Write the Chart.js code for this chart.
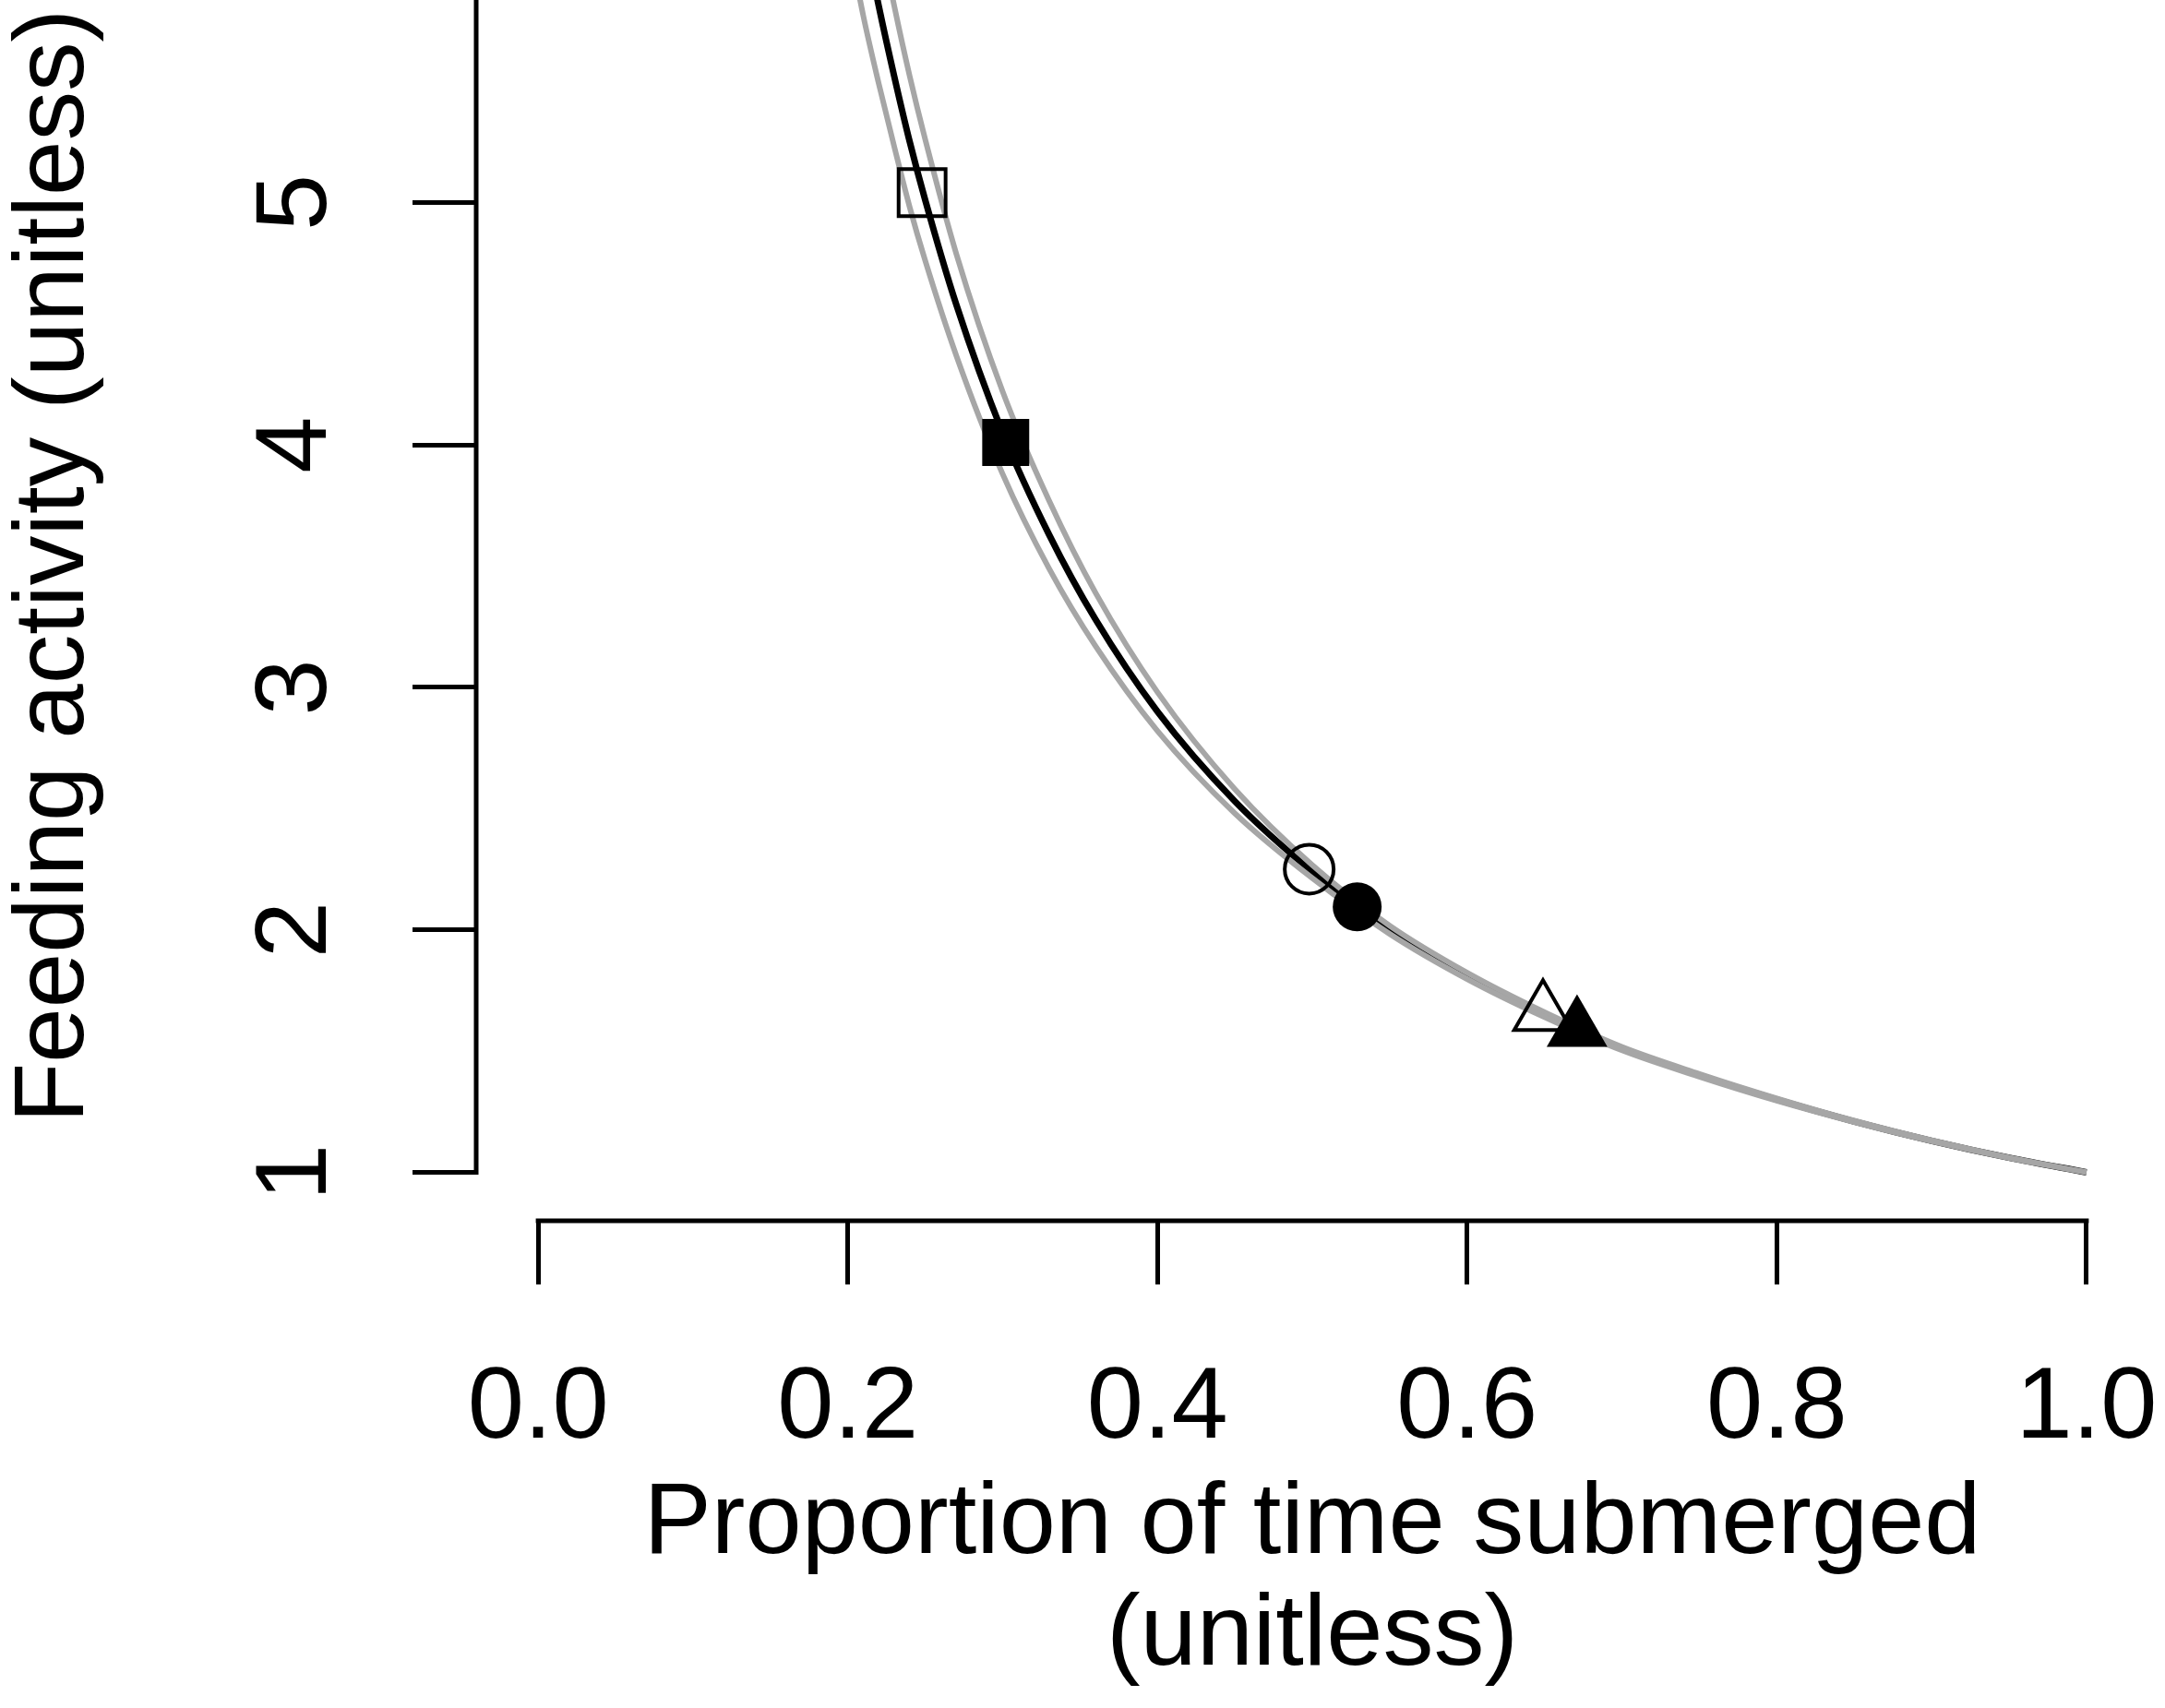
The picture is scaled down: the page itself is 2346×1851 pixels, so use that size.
<!DOCTYPE html>
<html>
<head>
<meta charset="utf-8">
<script src="https://cdn.jsdelivr.net/npm/chart.js@4.4.1/dist/chart.umd.min.js"></script>
<style>
    html, body { margin: 0; padding: 0; background: #fff; overflow: hidden; }
    #wrap { width: 2346px; height: 1851px; overflow: hidden; position: relative; }
    #chart { display: block; position: absolute; left: 0; top: -96px; }
</style>
</head>
<body>
<div id="wrap"><canvas id="chart" width="2346" height="1947"></canvas></div>
<script>
// 1) data
const curveX = [0.20, 0.21, 0.22, 0.23, 0.24, 0.25, 0.27, 0.30, 0.33, 0.36, 0.40, 0.45,
    0.50, 0.55, 0.60, 0.65, 0.70, 0.75, 0.80, 0.85, 0.90, 0.95, 1.00];
// fitted curve (black)
const fitY = [6.49, 6.13, 5.81, 5.52, 5.25, 5.01, 4.58, 4.05, 3.63, 3.28, 2.90, 2.53,
    2.24, 2.00, 1.81, 1.65, 1.51, 1.40, 1.30, 1.21, 1.13, 1.06, 1.00];
// grey bounds
const lowerY = [6.10, 5.77, 5.49, 5.23, 4.98, 4.76, 4.37, 3.88, 3.49, 3.17, 2.82, 2.48,
    2.213, 1.983, 1.797, 1.640, 1.503, 1.394, 1.295, 1.207, 1.128, 1.059, 1.00];
const upperY = [6.88, 6.49, 6.13, 5.81, 5.52, 5.26, 4.79, 4.22, 3.77, 3.39, 2.98, 2.58,
    2.267, 2.017, 1.823, 1.660, 1.517, 1.406, 1.305, 1.213, 1.132, 1.061, 1.00];

// observed points (open square, filled square, open circle, filled circle, open triangle, filled triangle)
const markerX = [0.248, 0.302, 0.498, 0.529, 0.649, 0.671];
const markerY = [5.04, 4.01, 2.25, 2.095, 1.655, 1.59];

const xTicks = [0.0, 0.2, 0.4, 0.6, 0.8, 1.0];
const yTicks = [1, 2, 3, 4, 5, 6];
const xTitle = ['Proportion of time submerged', '(unitless)'];
const yTitle = 'Feeding activity (unitless)';

// 2) styles
const markerShape = ['rect', 'rect', 'circle', 'circle', 'triangle', 'triangle'];
const markerFilled = [false, true, false, true, false, true];
const markerSize = { rect: 36, circle: 26.5, triangle: 36 };
const FONT = 110;

Chart.defaults.font.family = '"Liberation Sans", Arial, Helvetica, sans-serif';
Chart.defaults.color = '#000';

const toPoints = ys => curveX.map((x, i) => ({ x, y: ys[i] }));

// R-style axis lines: only between first and last tick
const axisLines = {
    id: 'axisLines',
    afterDraw(chart) {
        const { ctx, chartArea, scales: { x, y } } = chart;
        ctx.save();
        ctx.strokeStyle = '#000';
        ctx.lineWidth = 5;
        ctx.lineCap = 'square';
        ctx.beginPath();
        ctx.moveTo(x.getPixelForValue(xTicks[0]), chartArea.bottom);
        ctx.lineTo(x.getPixelForValue(xTicks[xTicks.length - 1]), chartArea.bottom);
        ctx.moveTo(chartArea.left, y.getPixelForValue(yTicks[0]));
        ctx.lineTo(chartArea.left, y.getPixelForValue(yTicks[yTicks.length - 1]));
        ctx.stroke();
        ctx.restore();
    }
};

new Chart(document.getElementById('chart').getContext('2d'), {
    type: 'scatter',
    data: {
        datasets: [
            {
                label: 'fit',
                data: toPoints(fitY),
                showLine: true,
                borderColor: '#000',
                borderWidth: 7,
                pointRadius: 0,
                cubicInterpolationMode: 'monotone',
                order: 3
            },
            {
                label: 'lower',
                data: toPoints(lowerY),
                showLine: true,
                borderColor: '#a6a6a6',
                borderWidth: 6,
                pointRadius: 0,
                cubicInterpolationMode: 'monotone',
                order: 2
            },
            {
                label: 'upper',
                data: toPoints(upperY),
                showLine: true,
                borderColor: '#a6a6a6',
                borderWidth: 6,
                pointRadius: 0,
                cubicInterpolationMode: 'monotone',
                order: 2
            },
            {
                label: 'observed',
                data: markerX.map((x, i) => ({ x, y: markerY[i] })),
                showLine: false,
                pointStyle: markerShape,
                pointRadius: markerShape.map((s, i) => markerSize[s] + (markerFilled[i] && s === 'triangle' ? 2 : 0)),
                pointBackgroundColor: markerFilled.map(f => f ? '#000' : 'rgba(0,0,0,0)'),
                pointBorderColor: '#000',
                pointBorderWidth: markerFilled.map(f => f ? 0 : 4),
                order: 0
            }
        ]
    },
    options: {
        responsive: false,
        animation: false,
        events: [],
        layout: { autoPadding: false, padding: { left: 0, right: 18, top: 0, bottom: 0 } },
        plugins: { legend: { display: false }, tooltip: { enabled: false } },
        scales: {
            x: {
                type: 'linear',
                position: 'bottom',
                min: -0.04,
                max: 1.04,
                bounds: 'data',
                afterBuildTicks: s => { s.ticks = xTicks.map(v => ({ value: v })); },
                afterFit: s => { s.height = 528; s.paddingLeft = 0; s.paddingRight = 0; },
                grid: { display: true, drawOnChartArea: false, drawTicks: true, tickLength: 69, tickWidth: 5, tickColor: '#000' },
                border: { display: false },
                ticks: {
                    autoSkip: false,
                    maxRotation: 0,
                    padding: 70,
                    color: '#000',
                    font: { size: FONT, lineHeight: 1.2 },
                    callback: v => Number(v).toFixed(1)
                },
                title: {
                    display: true,
                    text: xTitle,
                    color: '#000',
                    font: { size: FONT, lineHeight: 1.1 },
                    padding: { top: 0, bottom: 17 }
                }
            },
            y: {
                type: 'linear',
                position: 'left',
                min: 0.8,
                max: 6.2,
                bounds: 'data',
                afterBuildTicks: s => { s.ticks = yTicks.map(v => ({ value: v })); },
                afterFit: s => { s.width = 516; s.paddingTop = 0; s.paddingBottom = 0; },
                grid: { display: true, drawOnChartArea: false, drawTicks: true, tickLength: 69, tickWidth: 5, tickColor: '#000' },
                border: { display: false },
                ticks: {
                    autoSkip: false,
                    minRotation: 90,
                    maxRotation: 90,
                    crossAlign: 'center',
                    padding: 94,
                    color: '#000',
                    font: { size: FONT, lineHeight: 1.2 },
                    callback: v => String(v)
                },
                title: {
                    display: true,
                    text: yTitle,
                    color: '#000',
                    font: { size: 107, lineHeight: 1.13 },
                    padding: { top: 0, bottom: 0 }
                }
            }
        }
    },
    plugins: [axisLines]
});
</script>
</body>
</html>
